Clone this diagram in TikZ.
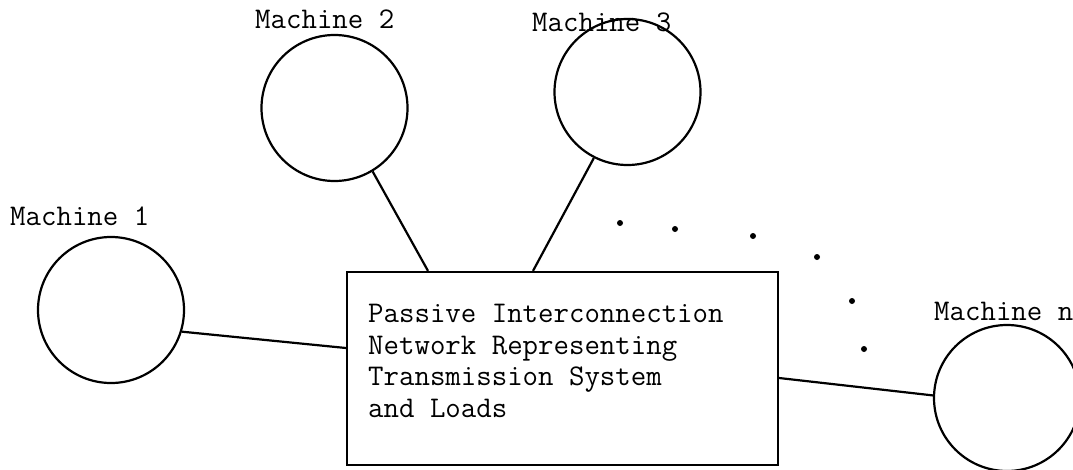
\documentclass[tikz,border=0pt]{standalone}
\begin{document}
\begin{tikzpicture}[x=1pt,y=-1pt,
  lw/.style={line width=2.2pt},
  mach/.style={circle,draw,lw,minimum size=146pt,inner sep=0pt},
  lab/.style={anchor=base west,inner sep=0pt,font=\fontsize{30}{32}\selectfont\ttfamily},
  conn/.style={lw},
  dotmark/.style={fill=black}]
\useasboundingbox (0,0) rectangle (1073,469);
% machines
\node[mach] (m1) at (111,310) {};
\node[mach] (m2) at (334.5,108) {};
\node[mach] (m3) at (627.5,92) {};
\node[mach] (mn) at (1007,398) {};
% labels
\node[lab] (l1) at (10,225) {Machine 1};
\node[lab] (l2) at (255,28) {Machine 2};
\node[lab] (l3) at (532,31) {Machine 3};
\node[lab] (ln) at (934,320) {Machine n};
% network box
\node[draw,lw,minimum width=431pt,minimum height=193pt,inner sep=0pt] (box) at (562.5,368.5) {};
\node[lab] (b1) at (368,322) {Passive Interconnection};
\node[lab] (b2) at (368,354) {Network Representing};
\node[lab] (b3) at (368,385) {Transmission System};
\node[lab] (b4) at (368,417) {and Loads};
% connectors
\draw[conn] (m1.-17) -- ([yshift=20.5pt]box.west);
\draw[conn] (m2.-59) -- ([xshift=-134.5pt]box.north);
\draw[conn] (m3.-117) -- ([xshift=-29.5pt]box.north);
\draw[conn] ([yshift=-9.5pt]box.east) -- (mn.178);
% dots
\foreach \p in {(620,223),(675,229),(753,236),(817,257),(852,301),(864,349)}
  \fill[dotmark] \p circle (3pt);
\end{tikzpicture}
\end{document}
